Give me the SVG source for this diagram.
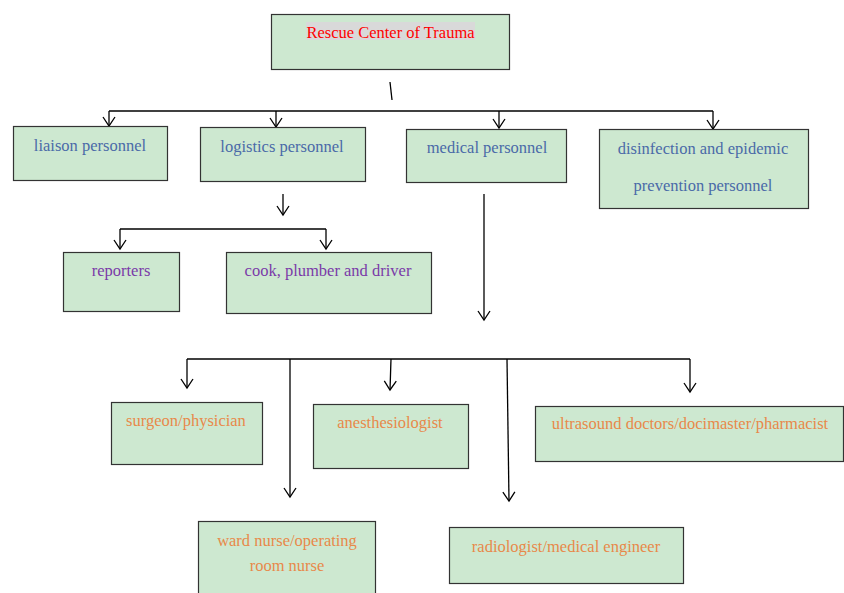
<svg xmlns="http://www.w3.org/2000/svg" width="844" height="593" viewBox="0 0 844 593">
<style>
.box{fill:#cde8d0;stroke:#333;stroke-width:1.2}
text{font-family:"Liberation Serif","Times New Roman",serif;font-size:16.5px;text-anchor:middle}
.red{fill:#ff0000}
.blue{fill:#4a6aa8}
.purple{fill:#7a3aa8}
.orange{fill:#e8884a}
.ln{fill:none;stroke:#000;stroke-width:1.3}
</style>
<defs>
<marker id="ah" markerUnits="userSpaceOnUse" markerWidth="12" markerHeight="14" refX="10" refY="7" orient="auto" viewBox="0 0 12 14">
<path d="M1,1 L10,7 L1,13" fill="none" stroke="#000" stroke-width="1.3"/>
</marker>
</defs>
<rect width="844" height="593" fill="#fff"/>
<g id="connectors">
<path class="ln" d="M390,82 L392,100"/>
<path class="ln" d="M109,111 L713,111"/>
<path class="ln" d="M109,111 L109,126" marker-end="url(#ah)"/>
<path class="ln" d="M276,111 L276,127" marker-end="url(#ah)"/>
<path class="ln" d="M499,111 L499,128" marker-end="url(#ah)"/>
<path class="ln" d="M713,111 L713,129" marker-end="url(#ah)"/>
<path class="ln" d="M283,194 L283,215" marker-end="url(#ah)"/>
<path class="ln" d="M120,229 L326,229"/>
<path class="ln" d="M120,229 L120,249" marker-end="url(#ah)"/>
<path class="ln" d="M326,229 L326,249" marker-end="url(#ah)"/>
<path class="ln" d="M484,194 L484,320" marker-end="url(#ah)"/>
<path class="ln" d="M187,359 L690,359"/>
<path class="ln" d="M187,359 L187,388" marker-end="url(#ah)"/>
<path class="ln" d="M290,359 L290,497" marker-end="url(#ah)"/>
<path class="ln" d="M391,359 L390,390" marker-end="url(#ah)"/>
<path class="ln" d="M507,359 L509,501" marker-end="url(#ah)"/>
<path class="ln" d="M690,359 L690,392" marker-end="url(#ah)"/>
</g>
<g id="rescue">
<rect class="box" x="271.5" y="14.5" width="238" height="55"/>
<rect x="306" y="22" width="169" height="18" fill="#d9d9d9"/>
<text class="red" x="390.5" y="38">Rescue Center of Trauma</text>
</g>
<g id="liaison">
<rect class="box" x="13.5" y="126.5" width="154" height="54"/>
<text class="blue" x="90" y="151">liaison personnel</text>
</g>
<g id="logistics">
<rect class="box" x="200.5" y="127.5" width="165" height="54"/>
<text class="blue" x="282" y="152">logistics personnel</text>
</g>
<g id="medical">
<rect class="box" x="406.5" y="129.5" width="160" height="53"/>
<text class="blue" x="487" y="153">medical personnel</text>
</g>
<g id="disinfection">
<rect class="box" x="599.5" y="129.5" width="209" height="79"/>
<text class="blue" x="703" y="154">disinfection and epidemic</text>
<text class="blue" x="703" y="191">prevention personnel</text>
</g>
<g id="reporters">
<rect class="box" x="63.5" y="252.5" width="116" height="59"/>
<text class="purple" x="121" y="276">reporters</text>
</g>
<g id="cook">
<rect class="box" x="226.5" y="252.5" width="205" height="61"/>
<text class="purple" x="328" y="276">cook, plumber and driver</text>
</g>
<g id="surgeon">
<rect class="box" x="111.5" y="402.5" width="151" height="62"/>
<text class="orange" x="186" y="426">surgeon/physician</text>
</g>
<g id="anesthesiologist">
<rect class="box" x="313.5" y="404.5" width="155" height="64"/>
<text class="orange" x="390" y="428">anesthesiologist</text>
</g>
<g id="ultrasound">
<rect class="box" x="535.5" y="406.5" width="308" height="55"/>
<text class="orange" x="690" y="429">ultrasound doctors/docimaster/pharmacist</text>
</g>
<g id="nurse">
<rect class="box" x="198.5" y="521.5" width="177" height="75"/>
<text class="orange" x="287" y="546">ward nurse/operating</text>
<text class="orange" x="287" y="571">room nurse</text>
</g>
<g id="radiologist">
<rect class="box" x="449.5" y="527.5" width="234" height="56"/>
<text class="orange" x="566" y="552">radiologist/medical engineer</text>
</g>
</svg>
